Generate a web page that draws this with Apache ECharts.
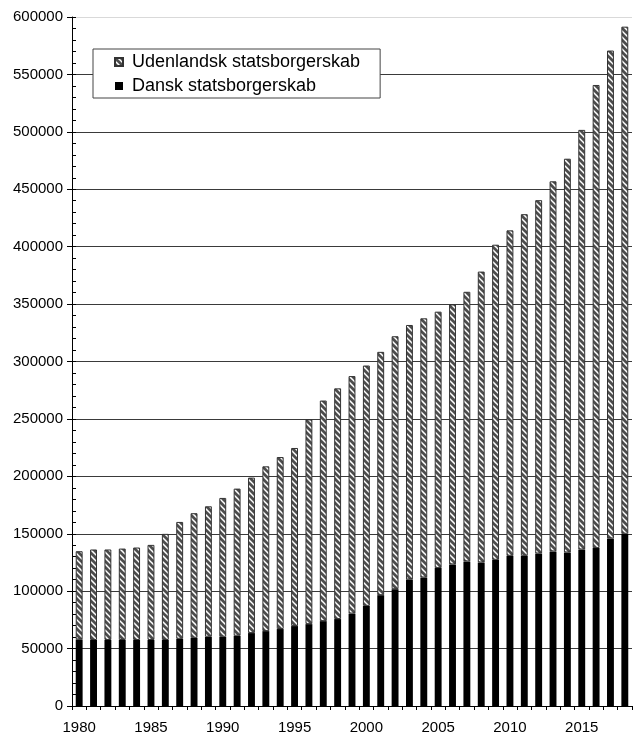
<!DOCTYPE html>
<html>
<head>
<meta charset="utf-8">
<script src="https://cdn.jsdelivr.net/npm/echarts@6/dist/echarts.min.js"></script>
<style>
html,body{margin:0;padding:0;background:#fff;}
#chart{width:635px;height:736px;}
</style>
</head>
<body>
<div id="chart"></div>
<script>
const years = ['1980','1981','1982','1983','1984','1985','1986','1987','1988','1989',
  '1990','1991','1992','1993','1994','1995','1996','1997','1998','1999',
  '2000','2001','2002','2003','2004','2005','2006','2007','2008','2009',
  '2010','2011','2012','2013','2014','2015','2016','2017','2018'];
const danskValues = [58000,57500,57500,57500,57500,57500,57500,58500,59400,60300,
  60300,61200,63500,65200,67000,69600,71300,73900,75700,80500,
  87200,96500,101700,110200,111900,120100,123300,125900,125000,127300,
  130800,130800,132800,134600,133700,136300,137500,145900,150000];
const udenlandskValues = [76800,78800,78800,79600,80500,82800,92400,101800,108500,113600,
  120900,128100,135400,143500,149800,155100,178300,192100,200900,206800,
  209300,211900,220300,221600,225700,223300,226400,234800,253300,274400,
  283400,297500,307700,322300,342900,365400,403300,424900,441600];
const seriesNames = ['Dansk statsborgerskab','Udenlandsk statsborgerskab'];
const yTicks = {min:0, max:600000, interval:50000};

function makeHatch(){
  const c = document.createElement('canvas');
  c.width = 6; c.height = 6;
  const g = c.getContext('2d');
  g.fillStyle = '#ffffff';
  g.fillRect(0,0,6,6);
  g.strokeStyle = '#4d4d4d';
  g.lineWidth = 2.7;
  [-6,0,6].forEach(function(k){
    g.beginPath();
    g.moveTo(-1, k-1);
    g.lineTo(7, k+7);
    g.stroke();
  });
  return c;
}
const hatch = {image: makeHatch(), repeat: 'repeat'};

const font = '"Liberation Sans", Arial, sans-serif';
const gridColors = [];
for (let i = 0; i < 12; i++) gridColors.push('#3a3a3a');
gridColors.push('#d9d9d9');

const chart = echarts.init(document.getElementById('chart'), null, {renderer:'canvas'});
chart.setOption({
  animation: false,
  backgroundColor: '#ffffff',
  textStyle: {fontFamily: font},
  grid: {left: 72, right: 3, top: 17, bottom: 30, containLabel: false},
  legend: {
    data: [seriesNames[1], seriesNames[0]],
    orient: 'vertical',
    left: 93, top: 49,
    backgroundColor: '#ffffff',
    borderColor: '#444444',
    borderWidth: 1,
    borderRadius: 0,
    padding: [4, 20, 3, 21],
    itemWidth: 8, itemHeight: 8,
    itemGap: 6,
    icon: 'rect',
    textStyle: {fontSize: 18, color: '#000', fontFamily: font, lineHeight: 18, padding: [0,0,0,4]}
  },
  xAxis: {
    type: 'category',
    data: years,
    axisLine: {lineStyle: {color: '#000', width: 1}},
    axisTick: {show: true, interval: 0, length: 4, alignWithLabel: false, lineStyle: {color: '#000'}},
    axisLabel: {interval: 4, fontSize: 15, color: '#000', margin: 14, fontFamily: font},
    splitLine: {show: false}
  },
  yAxis: [{
    type: 'value',
    min: yTicks.min, max: yTicks.max, interval: yTicks.interval,
    axisLine: {show: true, lineStyle: {color: '#000', width: 1}},
    axisTick: {show: true, length: 5, inside: false, lineStyle: {color: '#000'}},
    axisLabel: {fontSize: 15, color: '#000', margin: 9, fontFamily: font,
      formatter: function(v){ return String(v); }},
    splitLine: {show: true, showMinLine: true, showMaxLine: true, lineStyle: {color: gridColors, width: 1}}
  }, {
    type: 'value',
    position: 'left',
    min: yTicks.min, max: yTicks.max, interval: 10000,
    axisLine: {show: false},
    axisTick: {show: true, length: 4, inside: true, lineStyle: {color: '#000'}},
    axisLabel: {show: false},
    splitLine: {show: false}
  }],
  series: [{
    name: seriesNames[0],
    type: 'bar',
    stack: 'total',
    data: danskValues,
    barWidth: '48%',
    itemStyle: {color: '#000000', borderColor: '#000', borderWidth: 0}
  }, {
    name: seriesNames[1],
    type: 'bar',
    stack: 'total',
    data: udenlandskValues,
    barWidth: '48%',
    itemStyle: {color: hatch, borderColor: '#333333', borderWidth: 1}
  }]
});
</script>
</body>
</html>
